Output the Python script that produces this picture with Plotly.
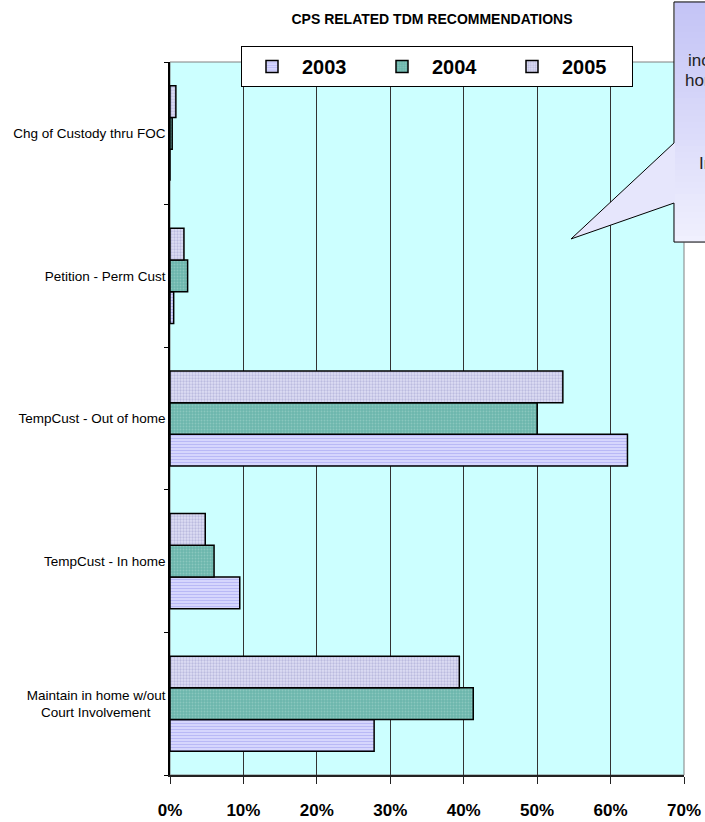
import plotly.graph_objects as go

# data (share of recommendations)
categories = ["Maintain in home w/out Court Involvement", "TempCust - In home",
              "TempCust - Out of home", "Petition - Perm Cust", "Chg of Custody thru FOC"]
tick_labels = ["Maintain in home w/out<br>Court Involvement\u00a0\u00a0\u00a0\u00a0", "TempCust - In home",
               "TempCust - Out of home", "Petition - Perm Cust", "Chg of Custody thru FOC"]
years = ["2003", "2004", "2005"]
pct_2003 = [0.278, 0.095, 0.623, 0.005, 0.0]
pct_2004 = [0.413, 0.060, 0.500, 0.024, 0.003]
pct_2005 = [0.394, 0.048, 0.535, 0.019, 0.008]

W, H = 705, 822
L, R, T, B = 170, 21, 62, 47
pw, ph = W - L - R, H - T - B


def px(x, y):
    # pixel position -> paper coords
    return (x - L) / pw, (H - B - y) / ph


arial = "Liberation Sans, Arial"

styles = {
    "2003": dict(shape="-", bgcolor="#E4E4FF", fgcolor="#8E8EEE", size=3, solidity=0.55),
    "2004": dict(shape=".", bgcolor="#6CB6AC", fgcolor="#A8D8D0", size=3, solidity=0.3),
    "2005": dict(shape=".", bgcolor="#DEDEF4", fgcolor="#9898CA", size=3, solidity=0.45),
}
base = {"2003": "#BDBDF6", "2004": "#7FC0B7", "2005": "#D0D0EC"}

fig = go.Figure()
for yr, vals in zip(years, [pct_2003, pct_2004, pct_2005]):
    fig.add_trace(go.Bar(
        x=vals, y=categories, name=yr, orientation="h",
        marker=dict(color=base[yr], pattern=styles[yr], line=dict(color="black", width=1.5)),
    ))

# callout box (partly off the page on the right)
box = [(674, 2), (730, 2), (730, 242), (674, 242), (674, 203), (571, 239), (674, 143)]
pts = [px(a, b) for a, b in box]
path = "M " + " L ".join(f"{a:.4f},{b:.4f}" for a, b in pts) + " Z"
shapes = [dict(type="path", path=path, xref="paper", yref="paper",
               fillcolor="#E6E6FC", line=dict(width=0), layer="above")]
n = 40
for i in range(n):
    y0 = 2 + i * 240 / n
    y1 = 2 + (i + 1) * 240 / n + 0.5
    t = i / (n - 1)
    c = (int(196 + t * 44), int(196 + t * 44), int(246 + t * 8))
    x0p, y0p = px(675, y0)
    x1p, y1p = px(730, y1)
    shapes.append(dict(type="rect", xref="paper", yref="paper", x0=x0p, x1=x1p, y0=y0p, y1=y1p,
                       fillcolor=f"rgb{c}", line=dict(width=0), layer="above"))
shapes.append(dict(type="path", path=path, xref="paper", yref="paper",
                   line=dict(color="black", width=1), layer="above"))
# plot area border
shapes.append(dict(type="rect", xref="paper", yref="paper", x0=0, x1=1, y0=0, y1=1,
                   line=dict(color="#808080", width=1), layer="below"))

annotations = []
for txt, x, y in [("increase in", 686, 61), ("home", 683, 80), ("In", 697, 163)]:
    xp, yp = px(x, y)
    annotations.append(dict(text=txt, x=xp, y=yp, xref="paper", yref="paper",
                            xanchor="left", yanchor="middle", showarrow=False,
                            font=dict(family=arial, size=17, color="#222222")))

lx, ly = px(241, 46)

fig.update_layout(
    width=W, height=H,
    margin=dict(l=L, r=R, t=T, b=B, autoexpand=False),
    paper_bgcolor="white", plot_bgcolor="#CCFFFF",
    barmode="group", bargap=0.333, bargroupgap=0,
    title=dict(text="CPS RELATED TDM RECOMMENDATIONS", x=432 / W, xanchor="center",
               y=1 - 19 / H, yanchor="middle",
               font=dict(family=arial, size=14, color="black", weight="bold")),
    legend=dict(orientation="h", x=lx, y=ly, xanchor="left", yanchor="top",
                bgcolor="white", bordercolor="black", borderwidth=1,
                itemwidth=50, entrywidth=65, entrywidthmode="pixels", traceorder="normal",
                font=dict(family=arial, size=20, color="black", weight="bold")),
    xaxis=dict(range=[0, 0.7], dtick=0.1, tickformat=".0%", showgrid=True,
               gridcolor="#333333", gridwidth=1, zeroline=False, automargin=False,
               showline=True, linecolor="#222222", linewidth=1.5,
               ticks="outside", ticklen=7, tickcolor="#222222", ticklabelstandoff=12,
               tickfont=dict(family=arial, size=17, color="black", weight="bold")),
    yaxis=dict(type="category", categoryorder="array", categoryarray=categories,
               tickvals=categories, ticktext=tick_labels, tickson="boundaries",
               showgrid=False, showline=True, linecolor="black", linewidth=1.5,
               automargin=False,
               ticks="outside", ticklen=4, tickcolor="black",
               tickfont=dict(family=arial, size=13.5, color="black")),
    shapes=shapes, annotations=annotations,
)

# drop the default 8px page margin so the figure sits at the window corner
fig.write_html("out.html", config={"displayModeBar": False},
               post_script="document.body.style.margin='0';")
